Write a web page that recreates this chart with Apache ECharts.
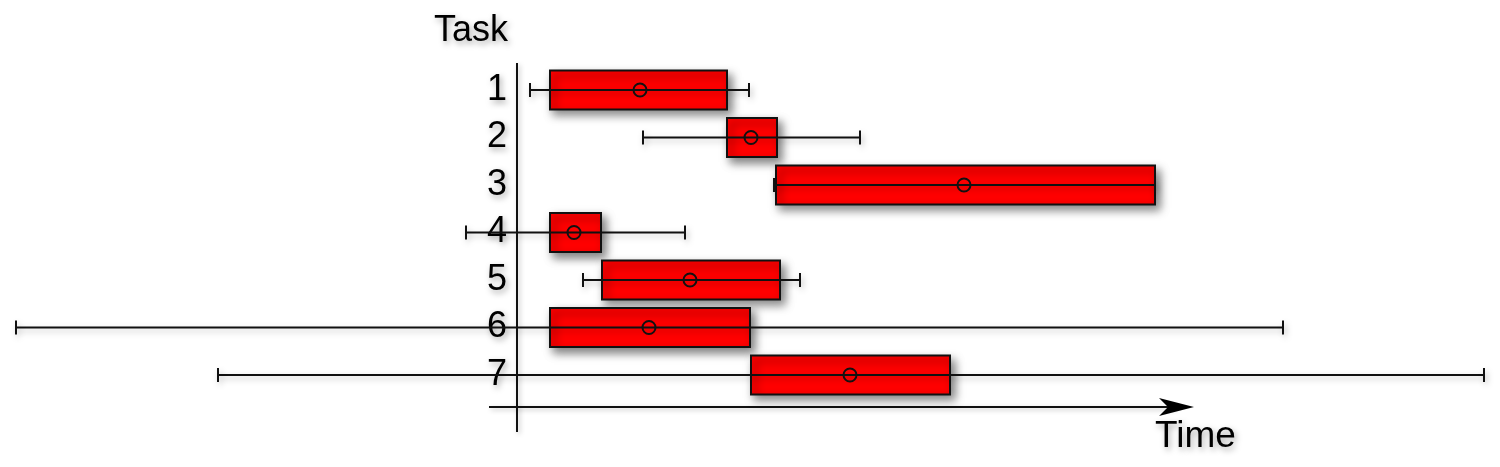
<!DOCTYPE html>
<html>
<head>
<meta charset="utf-8">
<script src="https://cdn.jsdelivr.net/npm/echarts@6/dist/echarts.min.js"></script>
<style>
html, body { margin: 0; padding: 0; background: #fff; }
#chart { width: 1500px; height: 467px; }
</style>
</head>
<body>
<div id="chart"></div>
<script>
// tasks and times (1 unit = 10px in the original picture)
var tasks = ['1', '2', '3', '4', '5', '6', '7'];
var lowWhisker = [-2.0, 9.3, 22.4, -8.4, 3.3, -53.4, -33.2];
var boxStart = [0, 17.7, 22.6, 0, 5.2, 0, 20.1];
var meanTime = [9.0, 20.1, 41.4, 2.4, 14.0, 9.9, 30.0];
var boxEnd = [17.7, 22.7, 60.5, 5.1, 23.0, 20.0, 40.0];
var highWhisker = [19.9, 31.0, 60.5, 13.5, 25.0, 73.3, 93.4];

var font = 'Liberation Sans, Arial, sans-serif';
var txtShadow = {
    textShadowColor: 'rgba(0,0,0,0.35)',
    textShadowBlur: 6,
    textShadowOffsetX: 2,
    textShadowOffsetY: 3
};

//组装数据
var data = [];
for (var i = 0; i < tasks.length; i++) {
    data.push([i, lowWhisker[i], boxStart[i], meanTime[i], boxEnd[i], highWhisker[i]]);
}

//画每个任务
function renderItem(params, api) {
    var y = api.value(0);
    var lo = api.coord([api.value(1), y]);
    var s = api.coord([api.value(2), y]);
    var m = api.coord([api.value(3), y]);
    var e = api.coord([api.value(4), y]);
    var hi = api.coord([api.value(5), y]);
    var h = api.size([0, 1])[1] * 0.82;
    var cap = 7;
    var lineStyle = {
        stroke: '#111', lineWidth: 2,
        shadowBlur: 6, shadowColor: 'rgba(0,0,0,0.25)', shadowOffsetX: 2, shadowOffsetY: 3
    };
    return {
        type: 'group',
        children: [
            {
                type: 'rect',
                shape: { x: s[0], y: s[1] - h / 2, width: e[0] - s[0], height: h },
                style: {
                    fill: '#ff0000', stroke: '#111', lineWidth: 2,
                    shadowBlur: 9, shadowColor: 'rgba(0,0,0,0.5)', shadowOffsetX: 4, shadowOffsetY: 5
                }
            },
            { type: 'line', shape: { x1: lo[0], y1: lo[1], x2: hi[0], y2: hi[1] }, style: lineStyle },
            { type: 'line', shape: { x1: lo[0], y1: lo[1] - cap, x2: lo[0], y2: lo[1] + cap }, style: lineStyle },
            { type: 'line', shape: { x1: hi[0], y1: hi[1] - cap, x2: hi[0], y2: hi[1] + cap }, style: lineStyle },
            {
                type: 'circle',
                shape: { cx: m[0], cy: m[1], r: 6.5 },
                style: { fill: 'none', stroke: '#111', lineWidth: 2 }
            }
        ]
    };
}

var myChart = echarts.init(document.getElementById('chart'));
var option = {
    animation: false,
    backgroundColor: '#fff',
    grid: { left: 517, right: 0, top: 66.25, height: 332.5 },
    xAxis: {
        type: 'value',
        min: -3.3,
        max: 95,
        show: false
    },
    yAxis: {
        type: 'category',
        data: tasks,
        inverse: true,
        axisLine: { show: false },
        axisTick: { show: false },
        splitLine: { show: false },
        axisLabel: Object.assign({
            fontSize: 36, fontFamily: font, color: '#000', margin: 10
        }, txtShadow)
    },
    graphic: [
        {
            type: 'line', z: 1,
            shape: { x1: 517, y1: 63, x2: 517, y2: 432 },
            style: { stroke: '#111', lineWidth: 2, shadowBlur: 5, shadowColor: 'rgba(0,0,0,0.25)', shadowOffsetX: 2, shadowOffsetY: 2 }
        },
        {
            type: 'line', z: 1,
            shape: { x1: 489, y1: 407, x2: 1175, y2: 407 },
            style: { stroke: '#111', lineWidth: 2, shadowBlur: 5, shadowColor: 'rgba(0,0,0,0.25)', shadowOffsetX: 2, shadowOffsetY: 2 }
        },
        {
            type: 'polygon', z: 1,
            shape: { points: [[1194, 407], [1159, 398], [1168, 407], [1159, 416]] },
            style: { fill: '#000' }
        },
        {
            type: 'text', z: 1,
            style: Object.assign({
                x: 508, y: 31, text: 'Task', align: 'right', verticalAlign: 'middle',
                font: '36px ' + font, fill: '#000'
            }, txtShadow)
        },
        {
            type: 'text', z: 1,
            style: Object.assign({
                x: 1155, y: 437, text: 'Time', align: 'left', verticalAlign: 'middle',
                font: '37px ' + font, fill: '#000'
            }, txtShadow)
        }
    ],
    series: [{
        type: 'custom',
        renderItem: renderItem,
        encode: { x: [1, 2, 3, 4, 5], y: 0 },
        data: data
    }]
};
myChart.setOption(option);
</script>
</body>
</html>
